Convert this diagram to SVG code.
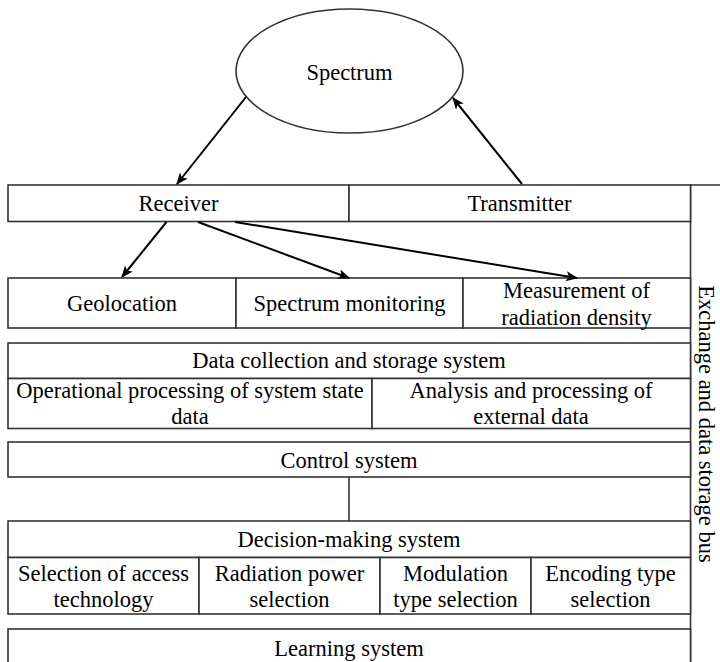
<svg xmlns="http://www.w3.org/2000/svg" width="720" height="662" viewBox="0 0 720 662">
<defs>
<style>
.box{fill:#fff;stroke:#333;stroke-width:1.6}
.ln{fill:none;stroke:#333;stroke-width:1.6}
.arr{fill:none;stroke:#000;stroke-width:2;marker-end:url(#ah)}
.t text{font-size:22.5px;fill:#000;text-anchor:middle;dominant-baseline:central}
</style>
<marker id="ah" viewBox="0 0 12 10" refX="11" refY="5" markerWidth="12" markerHeight="10" markerUnits="userSpaceOnUse" orient="auto">
<path d="M0,0 L12,5 L0,10 L3,5 Z" fill="#000"/>
</marker>
</defs>
<rect width="720" height="662" fill="#fff"/>
<g class="t" font-family="Liberation Serif, Times New Roman, DejaVu Serif, serif">

<g id="bus">
<path class="ln" d="M690,185 H720 M690.5,185 V662"/>
<text x="706" y="424" transform="rotate(90 706 424)">Exchange and data storage bus</text>
</g>

<g id="spectrum">
<ellipse class="box" cx="349.5" cy="71" rx="113.5" ry="62"/>
<text x="349.5" y="72">Spectrum</text>
</g>

<g id="receiver">
<rect class="box" x="8" y="185" width="341" height="36.5"/>
<text x="178.5" y="203">Receiver</text>
</g>
<g id="transmitter">
<rect class="box" x="349" y="185" width="341.5" height="36.5"/>
<text x="519.5" y="203">Transmitter</text>
</g>

<g id="geolocation">
<rect class="box" x="8" y="278" width="228" height="50"/>
<text x="122" y="303">Geolocation</text>
</g>
<g id="spectrum-monitoring">
<rect class="box" x="236" y="278" width="227" height="50"/>
<text x="349.5" y="303">Spectrum monitoring</text>
</g>
<g id="measurement">
<rect class="box" x="463" y="278" width="227.5" height="50"/>
<text x="576.5" y="290">Measurement of</text>
<text x="576.5" y="317">radiation density</text>
</g>

<g id="data-collection">
<rect class="box" x="8" y="343" width="682.5" height="35.5"/>
<text x="349" y="360">Data collection and storage system</text>
</g>
<g id="operational-processing">
<rect class="box" x="8" y="378.5" width="364" height="50"/>
<text x="190" y="390">Operational processing of system state</text>
<text x="190" y="416">data</text>
</g>
<g id="external-analysis">
<rect class="box" x="372" y="378.5" width="318.5" height="50"/>
<text x="531" y="390">Analysis and processing of</text>
<text x="531" y="416">external data</text>
</g>

<g id="control">
<rect class="box" x="8" y="442" width="682.5" height="35"/>
<text x="349" y="460">Control system</text>
</g>

<g id="decision">
<rect class="box" x="8" y="521" width="682.5" height="36.5"/>
<text x="349" y="539">Decision-making system</text>
</g>
<g id="access-tech">
<rect class="box" x="8" y="557.5" width="191" height="56.5"/>
<text x="103.5" y="573">Selection of access</text>
<text x="103.5" y="599">technology</text>
</g>
<g id="power">
<rect class="box" x="199" y="557.5" width="181" height="56.5"/>
<text x="289.5" y="573">Radiation power</text>
<text x="289.5" y="599">selection</text>
</g>
<g id="modulation">
<rect class="box" x="380" y="557.5" width="151" height="56.5"/>
<text x="455.5" y="573">Modulation</text>
<text x="455.5" y="599">type selection</text>
</g>
<g id="encoding">
<rect class="box" x="531" y="557.5" width="159.5" height="56.5"/>
<text x="610.5" y="573">Encoding type</text>
<text x="610.5" y="599">selection</text>
</g>

<g id="learning">
<rect class="box" x="8" y="629" width="682.5" height="45"/>
<text x="349" y="648">Learning system</text>
</g>
</g>

<g id="connectors">
<line class="arr" x1="246" y1="97" x2="177" y2="184"/>
<line class="arr" x1="522" y1="184" x2="453" y2="98"/>
<line class="arr" x1="166.5" y1="222" x2="122" y2="277"/>
<line class="arr" x1="198" y1="222" x2="349" y2="278"/>
<line class="arr" x1="235" y1="222" x2="577" y2="278"/>
<line class="ln" x1="349" y1="477" x2="349" y2="521"/>
</g>
</svg>
